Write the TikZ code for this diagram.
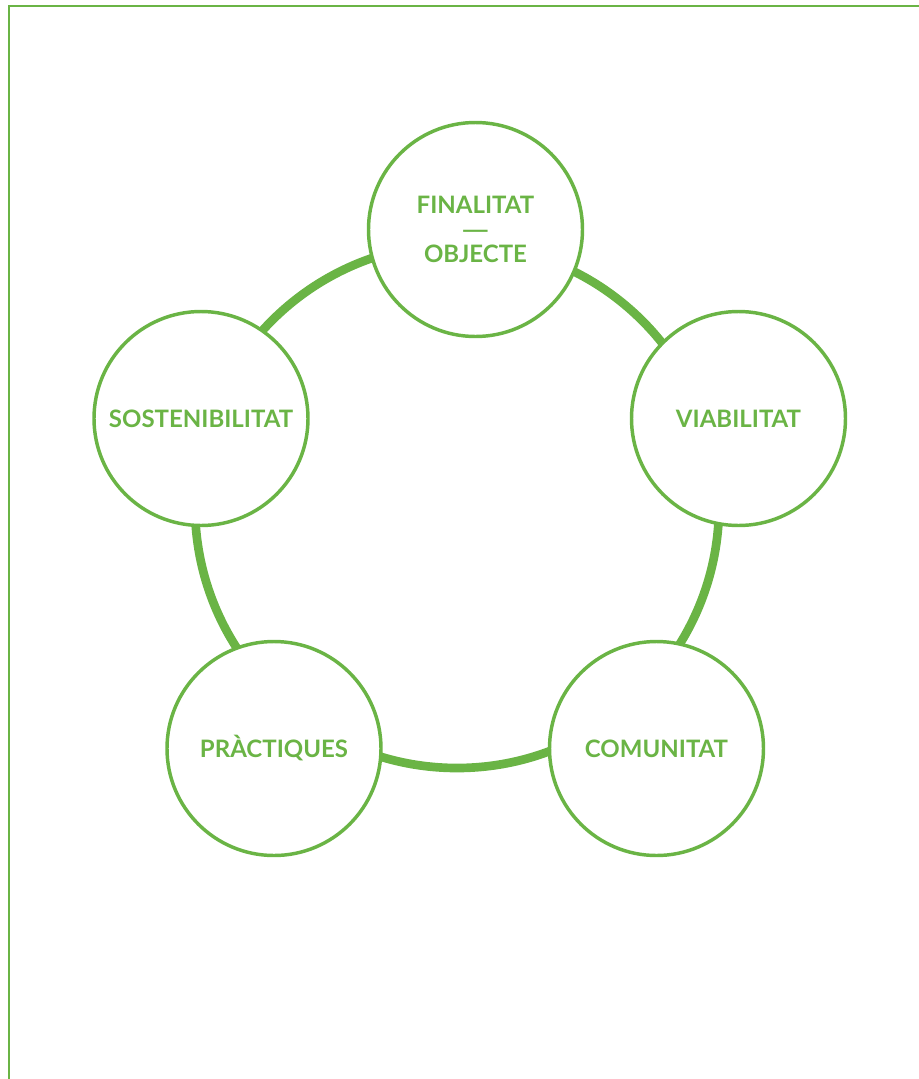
\documentclass[tikz,border=0pt]{standalone}
\usepackage{fontspec}
\setmainfont{Lato}
\definecolor{leaf}{RGB}{106,180,69}

\begin{document}
\begin{tikzpicture}[x=0.75pt,y=0.75pt,yscale=-1,xscale=1]
\tikzset{
  stage/.style={circle, draw=leaf, fill=white, line width=2.6pt, inner sep=0pt,
    minimum size=160.5pt, text=leaf, align=center,
    font=\fontsize{18}{18.4}\selectfont\bfseries},
}
\useasboundingbox (0,0) rectangle (919,1079);

%Frame
\draw [leaf, line width=1.5pt] (8.5,1079) -- (8.5,5.5) -- (919,5.5) ;

%Ring behind the circles
\coordinate (ring) at (457,506);
\draw [leaf, line width=6.5pt] (ring) circle [radius=196.5pt] ;

%Circles
\node [stage] (fin) at (475.5,229.5) {\rule{0pt}{8pt}FINALITAT\\\scalebox{1.5}[1]{—}\\OBJECTE};
\node [stage] (via) at (738.5,418.5) {VIABILITAT};
\node [stage] (com) at (656.5,748.5) {COMUNITAT};
\node [stage] (pra) at (274,748.5) {PRÀCTIQUES};
\node [stage] (sos) at (201,418.5) {SOSTENIBILITAT};

\end{tikzpicture}
\end{document}
